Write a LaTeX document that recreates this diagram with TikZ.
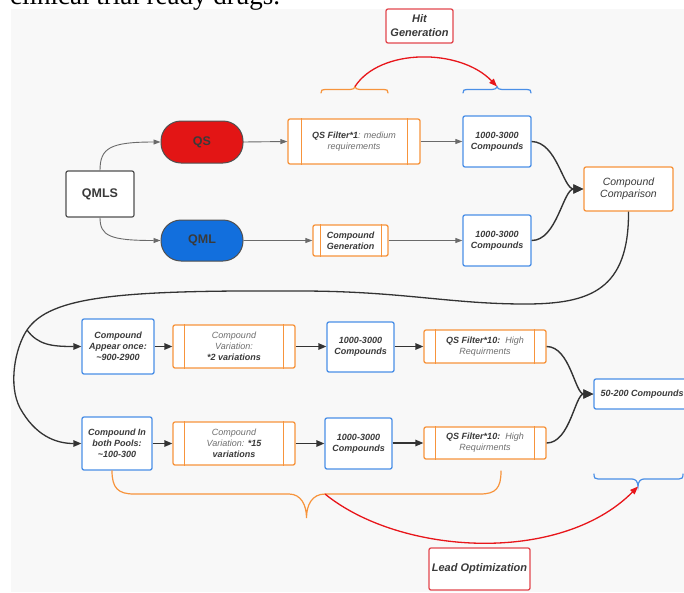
\documentclass[tikz,border=0pt]{standalone}
\usepackage{fontspec}
\setmainfont{Liberation Sans}
\newfontfamily\serifx{Liberation Serif}
\usetikzlibrary{arrows.meta}
\definecolor{bg}{HTML}{F8F8F8}
\definecolor{orng}{HTML}{F7943C}
\definecolor{blu}{HTML}{4A8FE7}
\definecolor{rdb}{HTML}{E2474E}
\definecolor{rda}{HTML}{E8161B}
\definecolor{qsred}{HTML}{E31515}
\definecolor{qmlblue}{HTML}{126FDD}
\definecolor{txt}{HTML}{3A3A3A}
\definecolor{gtxt}{HTML}{6E6E6E}
\definecolor{garr}{HTML}{6A6A6A}
\definecolor{darr}{HTML}{333333}
\definecolor{pillb}{HTML}{505050}
\newcommand{\gr}[1]{{\mdseries\color{gtxt}#1}}
\begin{document}
\begin{tikzpicture}[x=1pt,y=-1pt,
  lbl/.style={font=\bfseries\itshape\fontsize{9}{11}\selectfont, text=txt, align=center, inner sep=0pt},
  bluebox/.style={lbl, draw=blu, line width=1.3pt, rounded corners=2pt, fill=white},
  orangebox/.style={lbl, draw=orng, line width=1.3pt, rounded corners=2pt, fill=white},
  redbox/.style={lbl, draw=rdb, line width=1.3pt, rounded corners=2pt, fill=white, font=\bfseries\itshape\fontsize{11}{14}\selectfont},
  pill/.style={draw=pillb, line width=1pt, rounded corners=20pt, minimum width=82pt, minimum height=42pt, inner sep=0pt, font=\bfseries\fontsize{12.5}{14}\selectfont, text=txt},
  garrow/.style={draw=garr, line width=0.9pt, -{Triangle[length=7pt,width=5pt]}},
  darrow/.style={draw=darr, line width=1.3pt, -{Triangle[length=8pt,width=6.5pt]}},
  bigarrow/.style={draw=darr, line width=1.4pt, -{Triangle[length=10pt,width=9pt]}},
  rarrow/.style={draw=rda, line width=1.3pt, -{Triangle[length=8pt,width=6pt]}},
  brace/.style={line width=1.2pt, line cap=round},
  bar/.style={draw=orng, line width=1.3pt}
]
\useasboundingbox (0,0) rectangle (684,592);
\clip (0,0) rectangle (684,592);
\fill[bg] (11,9) rectangle (684,592);
\node[anchor=base west, inner sep=0pt, font=\serifx\fontsize{27}{30}\selectfont, text=black] (cap) at (10,4) {clinical trial ready drugs.};

% top part
\node[draw=pillb, line width=1.2pt, rounded corners=2pt, fill=white, minimum width=68pt, minimum height=46pt, inner sep=0pt, font=\bfseries\fontsize{12.5}{14}\selectfont, text=txt] (qmls) at (100,194) {QMLS};
\node[pill, fill=qsred] (qs) at (202,142) {QS};
\node[pill, fill=qmlblue, minimum height=41pt] (qml) at (202,240.5) {QML};
\node[orangebox, minimum width=132pt, minimum height=45pt] (f1) at (354,141.5) {QS Filter*1\gr{: medium}\\\gr{requirements}};
\node[bluebox, minimum width=68pt, minimum height=51pt] (c1) at (497,141.5) {1000-3000\\Compounds};
\node[orangebox, minimum width=75pt, minimum height=31pt] (cg) at (350.5,240.5) {Compound\\Generation};
\node[bluebox, minimum width=68pt, minimum height=51pt] (c2) at (497,240.5) {1000-3000\\Compounds};
\node[orangebox, minimum width=89pt, minimum height=44pt, font=\mdseries\itshape\fontsize{10.5}{12}\selectfont, text=txt] (cc) at (628.5,189) {Compound\\Comparison};
\node[redbox, minimum width=67pt, minimum height=34pt] (hit) at (419.5,26) {Hit\\Generation};

% lower part
\node[bluebox, minimum width=72pt, minimum height=55pt] (ao) at (118,346.5) {Compound\\Appear once:\\\textasciitilde900-2900};
\node[orangebox, minimum width=122pt, minimum height=43pt] (cv1) at (234,346.5) {\gr{Compound}\\\gr{Variation:}\\*2 variations};
\node[bluebox, minimum width=67pt, minimum height=50pt] (c3) at (360.5,347) {1000-3000\\Compounds};
\node[orangebox, minimum width=122pt, minimum height=33pt] (q1) at (485,346.5) {QS Filter*10:\ \ \gr{High}\\\gr{Requirments}};
\node[bluebox, minimum width=70pt, minimum height=53pt] (bp) at (117,443.5) {Compound In\\both Pools:\\\textasciitilde100-300};
\node[orangebox, minimum width=122pt, minimum height=43pt] (cv2) at (234,443.5) {\gr{Compound}\\\gr{Variation: }*15\\variations};
\node[bluebox, minimum width=67pt, minimum height=51pt] (c4) at (358.5,443.5) {1000-3000\\Compounds};
\node[orangebox, minimum width=122pt, minimum height=32pt] (q2) at (485,443) {QS Filter*10:\ \ \gr{High}\\\gr{Requirments}};
\node[bluebox, minimum width=96pt, minimum height=30pt] (out) at (642,394) {50-200 Compounds};
\node[redbox, minimum width=101pt, minimum height=42pt] (lead) at (479.5,569) {Lead Optimization};

% vertical bars of the process boxes
\foreach \n/\a/\b in {f1/14/13, cg/8/7, cv1/12/12, cv2/12/12, q1/12/12, q2/12/12}{
  \draw[bar] ([xshift=\a pt]\n.north west) -- ([xshift=\a pt]\n.south west);
  \draw[bar] ([xshift=-\b pt]\n.north east) -- ([xshift=-\b pt]\n.south east);
}

% upper connectors
\draw[garrow] (qmls.north) .. controls (100,148) and (110,142) .. (qs.west);
\draw[garrow] (qmls.south) .. controls (100,236) and (110,240.5) .. (qml.west);
\draw[garrow] (qs.east) -- (f1.west);
\draw[garrow] (qml.east) -- (cg.west);
\draw[garrow] (f1.east) -- (c1.west);
\draw[garrow] (cg.east) -- (c2.west);
\draw[bigarrow] (c1.east) .. controls (557,142) and (563,189) .. (cc.west);
\draw[bigarrow] (c2.east) .. controls (557,240.5) and (563,189) .. (cc.west);

% long connector
\coordinate (br) at (27,330);
\draw[darrow] (cc.south) .. controls (629,290) and (590,304) .. (525,304)
  .. controls (450,304) and (400,291) .. (300,291)
  .. controls (120,290) and (50,296) .. (br)
  .. controls (15,348) and (8,385) .. (20,408)
  .. controls (35,435) and (55,443.5) .. (bp.west);
\draw[darrow] (br) .. controls (38,345) and (52,346.5) .. (ao.west);

% lower connectors
\draw[darrow] (ao.east) -- (cv1.west);
\draw[darrow] (cv1.east) -- (c3.west |- cv1.east);
\draw[darrow] (c3.east |- q1.west) -- (q1.west);
\draw[darrow] (bp.east) -- (cv2.west);
\draw[darrow] (cv2.east) -- (c4.west |- cv2.east);
\draw[darrow] (c4.east |- q2.west) -- (q2.west);
\draw[bigarrow] (q1.east) .. controls (570,346.5) and (575,394) .. (out.west);
\draw[bigarrow] (q2.east) .. controls (570,443) and (575,394) .. (out.west);

% braces
\coordinate (tbo) at (355,86.5);
\coordinate (tbb) at (497,86.5);
\coordinate (bbo) at (325,494);
\coordinate (bbb) at (638,486.5);
\draw[brace, orng] (321,93) .. controls (321,90) and (322,89.5) .. (325,89.5) -- (350,89.5)
  .. controls (353,89.5) and (355,88.5) .. (tbo) .. controls (355,88.5) and (357,89.5) .. (360,89.5)
  -- (384,89.5) .. controls (387,89.5) and (388,90) .. (388,93);
\draw[brace, blu] (463,93) .. controls (463,90) and (464,89.5) .. (467,89.5) -- (492,89.5)
  .. controls (495,89.5) and (497,88.5) .. (tbb) .. controls (497,88.5) and (499,89.5) .. (502,89.5)
  -- (527,89.5) .. controls (530,89.5) and (531,90) .. (531,93);
\draw[brace, blu] (594,474) .. controls (594,478) and (595,479) .. (598,479) -- (632,479)
  .. controls (635,479) and (638,481) .. (bbb) .. controls (638,481) and (641,479) .. (644,479)
  -- (679,479) .. controls (682,479) and (683,478) .. (683,474);
\draw[brace, orng] (bp.south -| 112,0) .. controls (112,488) and (118,494) .. (134,494) -- (289,494)
  .. controls (301,494) and (306.5,505) .. (306.5,518) .. controls (306.5,505) and (312,494) .. (bbo)
  -- (480,494) .. controls (496,494) and (501,488) .. (501,471);

% red arcs
\draw[rarrow] (tbo) .. controls (380,48) and (460,48) .. (tbb);
\draw[rarrow] (bbo) .. controls (400,555) and (560,565) .. (bbb);
\end{tikzpicture}
\end{document}
